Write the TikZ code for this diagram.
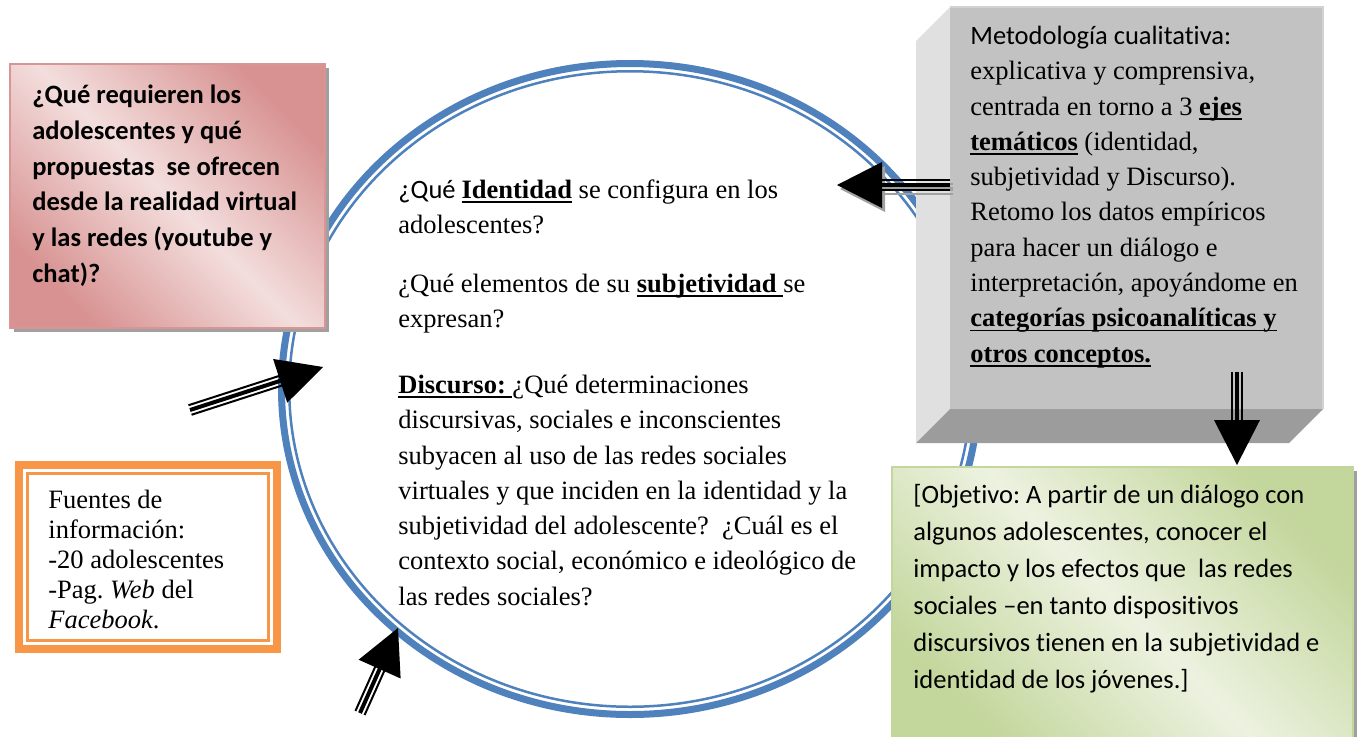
\documentclass[tikz,border=0pt]{standalone}
\usepackage{fontspec}
\setmainfont{Liberation Serif}[Ligatures=NoCommon]
\newfontfamily\calibri{Carlito}[Ligatures=NoCommon]
\usetikzlibrary{calc}
\definecolor{ringblue}{RGB}{79,129,189}
\definecolor{pinkdark}{RGB}{215,146,145}
\definecolor{pinklight}{RGB}{243,222,221}
\definecolor{pinkline}{RGB}{217,149,148}
\definecolor{greendark}{RGB}{195,214,155}
\definecolor{greenlight}{RGB}{236,242,224}
\definecolor{orangeb}{RGB}{247,150,70}
\definecolor{grayfront}{RGB}{194,194,194}
\definecolor{grayleft}{RGB}{224,224,224}
\definecolor{graybottom}{RGB}{156,156,156}
\definecolor{shadowgray}{RGB}{160,160,160}
\newcommand\myul[1]{\setbox0\hbox{#1}\rlap{\rule[-2.3pt]{\wd0}{0.8pt}}\box0}
\newcommand\firstline{\rule{0pt}{10pt}}
\newcommand\blockarrow[3]{%
  \path ($(#2)!20pt!(#1)$) coordinate (sE) ($(#2)!22.5pt!(#1)$) coordinate (hB);
  \draw[#3, line width=2pt] (#1) -- (sE);
  \draw[#3, line width=1pt] ($(#1)!2.5pt!90:(sE)$) -- ($(sE)!2.5pt!-90:(#1)$);
  \draw[#3, line width=1pt] ($(#1)!2.5pt!-90:(sE)$) -- ($(sE)!2.5pt!90:(#1)$);
  \fill[#3] (#2) -- ($(hB)!11.5pt!90:(#2)$) -- ($(hB)!11.5pt!-90:(#2)$) -- cycle;
}
\tikzset{
  txt/.style={anchor=north west, inner sep=0pt, align=left},
  serif/.style={font=\fontsize{13.25}{17.65}\selectfont},
  boxnode/.style={anchor=north west, inner sep=0pt, outer sep=0pt},
}
\begin{document}
\frenchspacing
\begin{tikzpicture}[x=0.5pt,y=-0.5pt]
\useasboundingbox (0,0) rectangle (1357,736);
\clip (0,0) rectangle (1357,736);
\fill[white] (0,0) rectangle (1357,736);

% ring
\coordinate (rc) at (630,389);
\draw[ringblue, line width=3.5pt] (rc) ellipse [x radius=348.5, y radius=325.5];
\draw[ringblue, line width=1.25pt] (rc) ellipse [x radius=340.75, y radius=317.75];

% pink box
\fill[shadowgray] (14,68) rectangle (329,332);
\node[boxnode, minimum width=157.5pt, minimum height=132pt, draw=pinkline, line width=1pt,
  top color=pinkdark, bottom color=pinkdark, middle color=pinklight, shading angle=-45] (pink) at (10,64) {};
\node[txt, font=\calibri\bfseries\fontsize{13.25}{17.85}\selectfont] (pinktxt) at (32,83.3)
 {\firstline¿Qué requieren los\\
  adolescentes y qué\\
  propuestas\ \ se ofrecen\\
  desde la realidad virtual\\
  y las redes (youtube y\\
  chat)?};

% gray 3D box
\fill[grayleft] (916,41) -- (950,7) -- (950,409) -- (916,443) -- cycle;
\fill[graybottom] (916,443) -- (950,409) -- (1323,409) -- (1289,443) -- cycle;
\node[boxnode, minimum width=186.5pt, minimum height=201pt, fill=grayfront] (met) at (950,7) {};
\draw[gray!35, line width=0.8pt] (950,7) -- (1323,7) -- (1323,409);
\node[txt, serif] (mettxt) at (970,24)
 {\firstline{\calibri Metodología cualitativa:}\\
  explicativa y comprensiva,\\
  centrada en torno a 3 \textbf{\myul{ejes}}\\
  \textbf{\myul{temáticos}} (identidad,\\
  subjetividad y Discurso).\\
  Retomo los datos empíricos\\
  para hacer un diálogo e\\
  interpretación, apoyándome en\\
  \textbf{\myul{categorías psicoanalíticas y}}\\
  \textbf{\myul{otros conceptos.}}};

% green box
\fill[shadowgray] (1352,471) rectangle (1358,740);
\node[boxnode, minimum width=230.5pt, minimum height=140pt, draw=greendark, line width=1pt,
  top color=greendark, bottom color=greendark, middle color=greenlight, shading angle=-45] (obj) at (892,467) {};
\node[txt, font=\calibri\fontsize{13.25}{18.5}\selectfont] (objtxt) at (913,483)
 {\firstline[Objetivo: A partir de un diálogo con\\
  algunos adolescentes, conocer el\\
  impacto y los efectos que\ \ las redes\\
  sociales –en tanto dispositivos\\
  discursivos tienen en la subjetividad e\\
  identidad de los jóvenes.]};

% orange box
\node[boxnode, minimum width=133pt, minimum height=96pt, fill=white] (fuentes) at (15,461) {};
\draw[orangeb, line width=3.85pt] (18.85,464.85) rectangle (277.15,649.15);
\draw[orangeb, line width=1.25pt] (27.5,473.5) rectangle (268.5,640.5);
\node[txt, font=\fontsize{13.25}{15}\selectfont] (fuentestxt) at (48,488)
 {\firstline Fuentes de\\
  información:\\
  -20 adolescentes\\
  -Pag. \textit{Web} del\\
  \textit{Facebook}.};

% circle texts
\node[txt, serif] (q1) at (398,178)
 {\firstline{\calibri ¿Qué }\textbf{\myul{Identidad}} se configura en los\\
  adolescentes?};
\node[txt, serif] (q2) at (398,272)
 {\firstline¿Qué elementos de su \textbf{\myul{subjetividad\ }}se\\
  expresan?};
\node[txt, serif] (q3) at (398,373)
 {\firstline\textbf{\myul{Discurso:\ }}¿Qué determinaciones\\
  discursivas, sociales e inconscientes\\
  subyacen al uso de las redes sociales\\
  virtuales y que inciden en la identidad y la\\
  subjetividad del adolescente?\ \ ¿Cuál es el\\
  contexto social, económico e ideológico de\\
  las redes sociales?};

% arrows
\coordinate (a1t) at (190,410);
\coordinate (a1h) at (323,367);
\blockarrow{a1t}{a1h}{black}
\coordinate (a2t) at (360,713);
\coordinate (a2h) at (398,628);
\blockarrow{a2t}{a2h}{black}
\coordinate (a3ts) at (953,189);
\coordinate (a3hs) at (840,189);
\blockarrow{a3ts}{a3hs}{shadowgray}
\coordinate (a3t) at (950,185);
\coordinate (a3h) at (837,185);
\blockarrow{a3t}{a3h}{black}
\coordinate (a4t) at (1237,372);
\coordinate (a4h) at (1237,465);
\blockarrow{a4t}{a4h}{black}
\end{tikzpicture}
\end{document}
